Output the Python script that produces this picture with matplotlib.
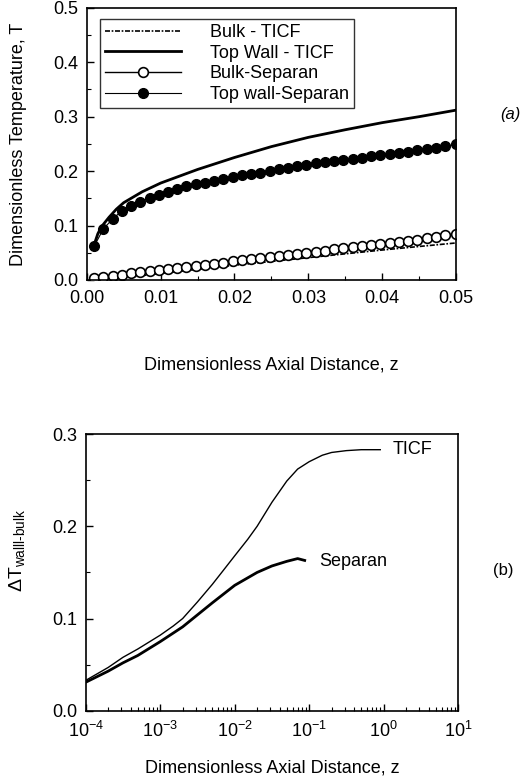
import numpy as np
import matplotlib
matplotlib.use('Agg')
import matplotlib.pyplot as plt
from matplotlib.ticker import MultipleLocator, LogLocator, NullFormatter

plt.rcParams['font.family'] = ['Liberation Sans', 'DejaVu Sans']
plt.rcParams['mathtext.fontset'] = 'custom'
plt.rcParams['mathtext.rm'] = 'Liberation Sans'
plt.rcParams['mathtext.it'] = 'Liberation Sans'

# ---- panel (a) data ----
z_sep = [0.001, 0.00225, 0.0035, 0.00475, 0.006, 0.00725, 0.0085, 0.00975,
         0.011, 0.01225, 0.0135, 0.01475, 0.016, 0.01725, 0.0185, 0.01975,
         0.021, 0.02225, 0.0235, 0.02475, 0.026, 0.02725, 0.0285, 0.02975,
         0.031, 0.03225, 0.0335, 0.03475, 0.036, 0.03725, 0.0385, 0.03975,
         0.041, 0.04225, 0.0435, 0.04475, 0.046, 0.04725, 0.0485, 0.05]
top_sep = [0.062, 0.094, 0.112, 0.127, 0.136, 0.143, 0.150, 0.156,
           0.162, 0.167, 0.172, 0.176, 0.179, 0.182, 0.186, 0.189,
           0.192, 0.195, 0.197, 0.200, 0.203, 0.206, 0.209, 0.211,
           0.214, 0.216, 0.218, 0.220, 0.222, 0.224, 0.227, 0.229,
           0.232, 0.234, 0.236, 0.238, 0.241, 0.243, 0.246, 0.249]
bulk_sep = [0.003, 0.005, 0.008, 0.010, 0.012, 0.014, 0.016, 0.018,
            0.020, 0.022, 0.024, 0.026, 0.028, 0.030, 0.032, 0.034,
            0.036, 0.038, 0.040, 0.042, 0.044, 0.046, 0.048, 0.050,
            0.052, 0.054, 0.056, 0.058, 0.060, 0.062, 0.064, 0.066,
            0.068, 0.070, 0.072, 0.074, 0.077, 0.079, 0.082, 0.085]

z_ticf = [0.001, 0.0015, 0.002, 0.003, 0.004, 0.005, 0.0075, 0.01, 0.015,
          0.02, 0.025, 0.03, 0.035, 0.04, 0.045, 0.05]
top_ticf = [0.065, 0.085, 0.098, 0.115, 0.130, 0.142, 0.162, 0.178, 0.203,
            0.225, 0.245, 0.262, 0.276, 0.289, 0.300, 0.312]
z_bulk_ticf = [0.002, 0.005, 0.01, 0.02, 0.03, 0.04, 0.05]
bulk_ticf = [0.001, 0.004, 0.012, 0.027, 0.041, 0.055, 0.068]

# ---- panel (b) data ----
zb_ticf = [1e-4, 2e-4, 3.16e-4, 5e-4, 1e-3, 1.5e-3, 2e-3, 3.16e-3, 5e-3, 7e-3,
           1e-2, 1.5e-2, 2e-2, 3.16e-2, 5e-2, 7e-2, 0.1, 0.15, 0.2, 0.316,
           0.5, 0.9]
dT_ticf = [0.033, 0.047, 0.058, 0.067, 0.082, 0.092, 0.100, 0.118, 0.137, 0.152,
           0.168, 0.186, 0.200, 0.226, 0.249, 0.262, 0.270, 0.277, 0.280, 0.282,
           0.283, 0.283]
zb_sep = [1e-4, 2e-4, 3.16e-4, 5e-4, 1e-3, 2e-3, 3.16e-3, 5e-3, 1e-2, 2e-2,
          3.16e-2, 5e-2, 7e-2, 8.7e-2]
dT_sep = [0.031, 0.043, 0.052, 0.060, 0.075, 0.091, 0.104, 0.117, 0.136, 0.150,
          0.157, 0.162, 0.165, 0.163]

fig = plt.figure(figsize=(5.26, 7.82), dpi=100)

# ---------- (a) ----------
ax1 = fig.add_axes([0.165, 0.642, 0.702, 0.348])
ax1.plot(z_bulk_ticf, bulk_ticf, color='black', lw=1.2,
         linestyle=(0, (3, 1, 1, 1)), label='Bulk - TICF')
ax1.plot(z_ticf, top_ticf, color='black', lw=2.0, label='Top Wall - TICF')
ax1.plot(z_sep, bulk_sep, color='black', lw=1.0, marker='o', ms=7,
         mfc='white', mec='black', mew=1.2, label='Bulk-Separan')
ax1.plot(z_sep, top_sep, color='black', lw=0.8, marker='o', ms=7,
         mfc='black', mec='black', label='Top wall-Separan')
ax1.set_xlim(0, 0.05)
ax1.set_ylim(0, 0.5)
ax1.xaxis.set_major_locator(MultipleLocator(0.01))
ax1.xaxis.set_minor_locator(MultipleLocator(0.005))
ax1.yaxis.set_major_locator(MultipleLocator(0.1))
ax1.yaxis.set_minor_locator(MultipleLocator(0.05))
ax1.set_xticklabels(['%.2f' % v for v in ax1.get_xticks()])
ax1.set_yticklabels(['%.1f' % v for v in ax1.get_yticks()])
ax1.set_xlabel('Dimensionless Axial Distance, z', fontsize=13)
ax1.set_ylabel('Dimensionless Temperature, T', fontsize=13)
ax1.xaxis.set_label_coords(0.5, -0.28)
ax1.yaxis.set_label_coords(-0.163, 0.5)
leg = ax1.legend(loc='upper left', bbox_to_anchor=(0.035, 0.96), fontsize=13,
                 frameon=True, fancybox=False, edgecolor='black',
                 handlelength=4.2, borderpad=0.3, labelspacing=0.2,
                 handletextpad=1.6, borderaxespad=0)
leg.get_frame().set_linewidth(1.0)
fig.text(0.97, 1 - 115 / 782, '(a)', fontsize=12, style='italic',
         ha='center', va='center')

# ---------- (b) ----------
ax2 = fig.add_axes([0.163, 0.091, 0.708, 0.354])
ax2.plot(zb_ticf, dT_ticf, color='black', lw=1.0)
ax2.plot(zb_sep, dT_sep, color='black', lw=2.0)
ax2.set_xscale('log')
ax2.set_xlim(1e-4, 10)
ax2.set_ylim(0, 0.3)
ax2.xaxis.set_major_locator(LogLocator(base=10, numticks=10))
ax2.xaxis.set_minor_locator(LogLocator(base=10, subs=np.arange(2, 10), numticks=10))
ax2.xaxis.set_minor_formatter(NullFormatter())
ax2.yaxis.set_major_locator(MultipleLocator(0.1))
ax2.yaxis.set_minor_locator(MultipleLocator(0.05))
ax2.set_yticklabels(['%.1f' % v for v in ax2.get_yticks()])
ax2.set_xlabel('Dimensionless Axial Distance, z', fontsize=13)
ax2.set_ylabel(r'$\Delta$T$_{\mathrm{walll\text{-}bulk}}$', fontsize=14)
ax2.xaxis.set_label_coords(0.5, -0.177)
ax2.yaxis.set_label_coords(-0.159, 0.58)
ax2.text(1.3, 0.283, 'TICF', fontsize=13, va='center', ha='left')
ax2.text(0.135, 0.162, 'Separan', fontsize=13, va='center', ha='left')
fig.text(0.957, 1 - 570 / 782, '(b)', fontsize=12, ha='center', va='center')

for ax in (ax1, ax2):
    ax.tick_params(which='both', direction='in', labelsize=13,
                   top=False, right=False)
    ax.tick_params(axis='x', which='major', pad=7)
    ax.tick_params(axis='y', which='major', pad=6)
    ax.tick_params(which='major', length=5, width=1.0)
    ax.tick_params(which='minor', length=3, width=0.8)
    for s in ax.spines.values():
        s.set_linewidth(1.2)

fig.savefig('out.png', dpi=100)
